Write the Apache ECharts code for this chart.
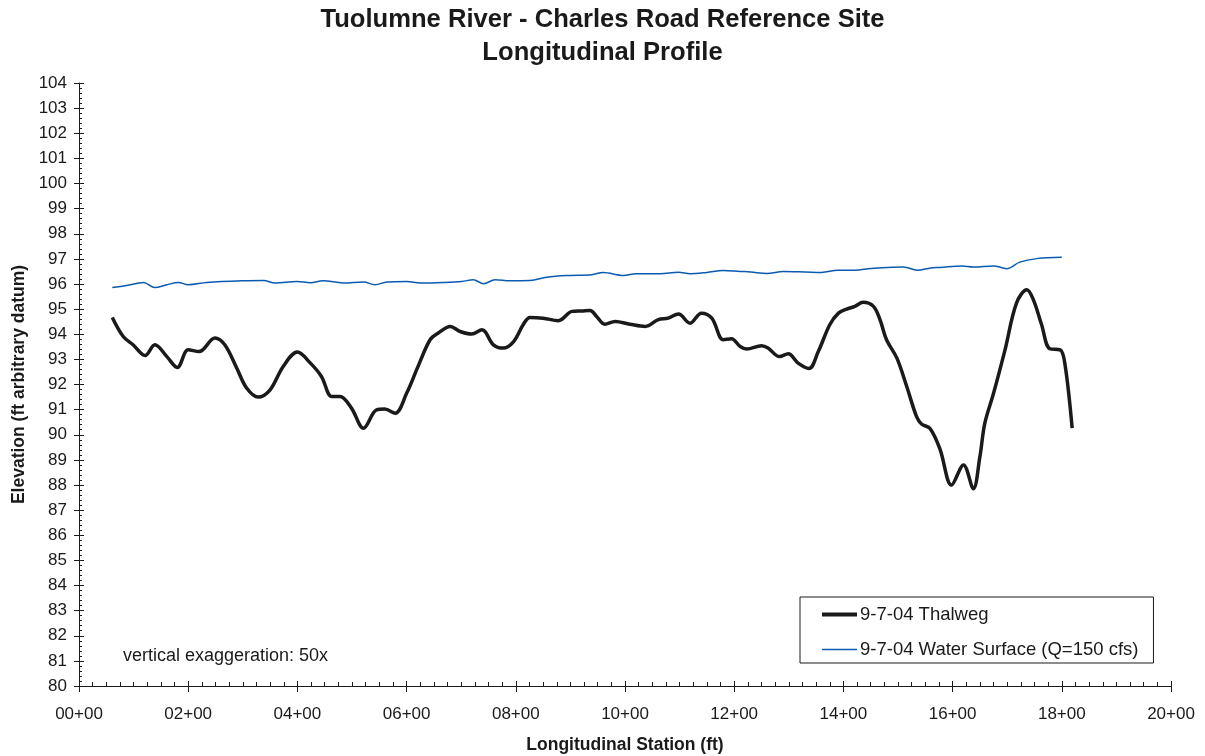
<!DOCTYPE html>
<html>
<head>
<meta charset="utf-8">
<title>Tuolumne River - Charles Road Reference Site</title>
<script src="https://cdn.jsdelivr.net/npm/echarts@6/dist/echarts.min.js"></script>
<style>
  html, body { margin: 0; padding: 0; background: #ffffff; }
  #chart { width: 1205px; height: 756px; }
</style>
</head>
<body>
<div id="chart"></div>
<script>
// Survey of 9-7-04: stations in ft, elevations in ft (arbitrary datum)
const thalwegStation = [61, 81, 99, 121, 139, 161, 180, 200, 220, 249, 267, 289, 307, 328, 350, 374, 400, 423, 444, 463, 478, 499, 521, 545, 560, 579, 600, 621, 643, 658, 680, 698, 719, 738, 759, 777, 796, 814, 826, 850, 878, 903, 921, 936, 948, 963, 982, 1009, 1037, 1061, 1079, 1098, 1119, 1140, 1159, 1180, 1195, 1211, 1223, 1250, 1262, 1283, 1299, 1317, 1337, 1354, 1375, 1391, 1406, 1421, 1436, 1455, 1467, 1479, 1498, 1516, 1534, 1543, 1559, 1577, 1598, 1620, 1638, 1650, 1659, 1675, 1696, 1717, 1736, 1748, 1763, 1778, 1797, 1806, 1819];
const thalwegElev = [94.67, 93.91, 93.58, 93.15, 93.58, 93.11, 92.68, 93.38, 93.31, 93.85, 93.58, 92.65, 91.86, 91.50, 91.79, 92.72, 93.29, 92.87, 92.32, 91.52, 91.52, 91.06, 90.26, 90.99, 91.02, 90.86, 91.65, 92.72, 93.78, 94.05, 94.31, 94.11, 94.01, 94.18, 93.58, 93.45, 93.71, 94.40, 94.67, 94.64, 94.54, 94.91, 94.93, 94.95, 94.71, 94.40, 94.51, 94.40, 94.31, 94.58, 94.64, 94.81, 94.44, 94.84, 94.64, 93.78, 93.82, 93.51, 93.41, 93.54, 93.45, 93.11, 93.22, 92.85, 92.64, 93.31, 94.38, 94.84, 95.00, 95.11, 95.27, 95.11, 94.58, 93.78, 93.05, 91.92, 90.72, 90.43, 90.24, 89.42, 88.00, 88.80, 87.85, 89.13, 90.46, 91.65, 93.38, 95.24, 95.77, 95.37, 94.38, 93.42, 93.38, 92.78, 90.26];

const waterStation = [61, 87, 118, 139, 161, 182, 200, 234, 301, 338, 359, 399, 424, 447, 484, 521, 542, 564, 600, 625, 667, 701, 722, 741, 762, 789, 826, 857, 899, 939, 960, 997, 1021, 1064, 1098, 1119, 1150, 1180, 1211, 1230, 1260, 1290, 1330, 1360, 1390, 1420, 1450, 1480, 1510, 1535, 1560, 1577, 1617, 1638, 1675, 1699, 1723, 1754, 1800];
const waterElev = [95.86, 95.94, 96.06, 95.86, 95.97, 96.06, 95.97, 96.06, 96.13, 96.14, 96.04, 96.10, 96.05, 96.13, 96.04, 96.08, 95.97, 96.08, 96.10, 96.04, 96.06, 96.10, 96.17, 96.01, 96.17, 96.13, 96.14, 96.27, 96.34, 96.37, 96.46, 96.34, 96.41, 96.41, 96.47, 96.41, 96.46, 96.54, 96.50, 96.48, 96.42, 96.50, 96.48, 96.46, 96.55, 96.55, 96.62, 96.66, 96.68, 96.55, 96.64, 96.66, 96.72, 96.68, 96.72, 96.61, 96.87, 97.01, 97.06];

const seriesNames = ['9-7-04 Thalweg', '9-7-04 Water Surface (Q=150 cfs)'];

const pairs = (xs, ys) => xs.map((x, i) => [x, ys[i]]);
const stationLabel = v => String(Math.round(v / 100)).padStart(2, '0') + '+00';

const FONT = 'Liberation Sans, Arial, sans-serif';
const INK = '#1a1a1a';
const BLUE = '#0a5bb0';

const chart = echarts.init(document.getElementById('chart'), null, { renderer: 'canvas' });

chart.setOption({
  backgroundColor: '#ffffff',
  animation: false,
  title: {
    text: 'Tuolumne River - Charles Road Reference Site\nLongitudinal Profile',
    left: 'center',
    top: -2,
    textStyle: { fontFamily: FONT, fontSize: 25.6, fontWeight: 'bold', color: INK, lineHeight: 33 }
  },
  legend: {
    orient: 'vertical',
    left: 800,
    top: 597,
    padding: [8, 15, 4, 22],
    itemWidth: 35,
    itemHeight: 14,
    itemGap: 16,
    borderColor: INK,
    borderWidth: 1,
    borderRadius: 0,
    backgroundColor: '#ffffff',
    textStyle: { fontFamily: FONT, fontSize: 18.5, lineHeight: 18, color: INK, padding: [0, 0, 0, -2] },
    data: [
      { name: seriesNames[0], icon: 'path://M0,0H35V4H0Z' },
      { name: seriesNames[1], icon: 'path://M0,0H35V1.5H0Z' }
    ]
  },
  grid: { left: 79, right: 34, top: 83, bottom: 70, outerBoundsMode: 'none', containLabel: false },
  xAxis: [
    {
      type: 'value',
      min: 0,
      max: 2000,
      interval: 200,
      position: 'bottom',
      name: 'Longitudinal Station (ft)',
      nameLocation: 'middle',
      nameGap: 50,
      nameTextStyle: { fontFamily: FONT, fontSize: 17.5, fontWeight: 'bold', color: INK },
      axisLine: { show: true, onZero: false, lineStyle: { color: INK, width: 1 } },
      axisTick: { show: true, inside: true, length: 5, lineStyle: { color: INK, width: 1 } },
      minorTick: { show: true, splitNumber: 8, length: 4, lineStyle: { color: INK, width: 1 } },
      axisLabel: { margin: 20, fontFamily: FONT, fontSize: 17, color: INK, formatter: stationLabel },
      splitLine: { show: false }
    },
    {
      type: 'value',
      min: 0,
      max: 2000,
      interval: 200,
      position: 'bottom',
      axisLine: { show: false, onZero: false },
      axisTick: { show: true, inside: false, length: 6, lineStyle: { color: INK, width: 1 } },
      axisLabel: { show: false },
      splitLine: { show: false }
    }
  ],
  yAxis: [
    {
      type: 'value',
      min: 80,
      max: 104,
      interval: 1,
      position: 'left',
      name: 'Elevation (ft arbitrary datum)',
      nameLocation: 'middle',
      nameGap: 51,
      nameTextStyle: { fontFamily: FONT, fontSize: 17.5, fontWeight: 'bold', color: INK },
      axisLine: { show: true, onZero: false, lineStyle: { color: INK, width: 1 } },
      axisTick: { show: true, inside: true, length: 5, lineStyle: { color: INK, width: 1 } },
      minorTick: { show: true, splitNumber: 5, length: 3, lineStyle: { color: INK, width: 1 } },
      axisLabel: { margin: 12, fontFamily: FONT, fontSize: 17, color: INK },
      splitLine: { show: false }
    },
    {
      type: 'value',
      min: 80,
      max: 104,
      interval: 1,
      position: 'left',
      axisLine: { show: false, onZero: false },
      axisTick: { show: true, inside: false, length: 5, lineStyle: { color: INK, width: 1 } },
      axisLabel: { show: false },
      splitLine: { show: false }
    }
  ],
  graphic: [
    {
      type: 'text',
      left: 123,
      top: 647,
      style: { text: 'vertical exaggeration: 50x', font: '18px ' + FONT, fill: INK }
    }
  ],
  series: [
    {
      name: seriesNames[0],
      type: 'line',
      xAxisIndex: 0,
      yAxisIndex: 0,
      data: pairs(thalwegStation, thalwegElev),
      smooth: 0.35,
      symbol: 'none',
      lineStyle: { color: INK, width: 3.5 },
      itemStyle: { color: INK },
      z: 3
    },
    {
      name: seriesNames[1],
      type: 'line',
      xAxisIndex: 0,
      yAxisIndex: 0,
      data: pairs(waterStation, waterElev),
      smooth: 0.35,
      symbol: 'none',
      lineStyle: { color: BLUE, width: 1.5 },
      itemStyle: { color: BLUE },
      z: 2
    }
  ]
});
</script>
</body>
</html>
